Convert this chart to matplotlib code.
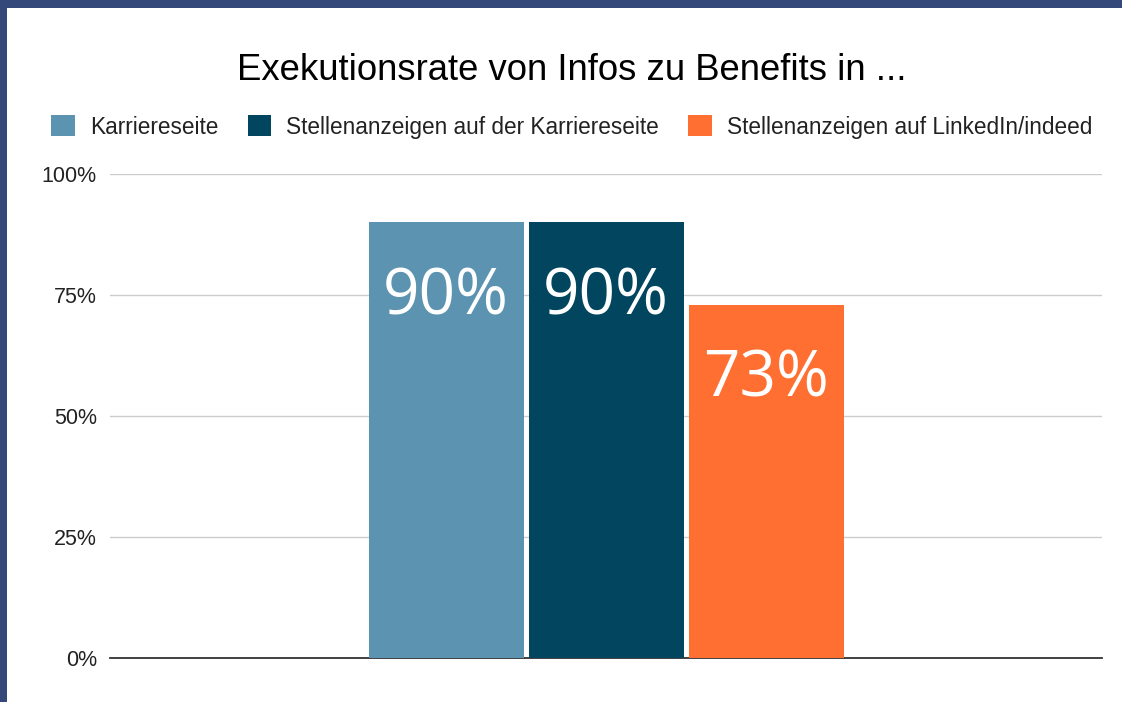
import matplotlib
matplotlib.use("Agg")
import matplotlib.pyplot as plt
from matplotlib.patches import Patch, Rectangle

plt.rcParams['font.family'] = ['Liberation Sans', 'DejaVu Sans']

series = ["Karriereseite", "Stellenanzeigen auf der Karriereseite", "Stellenanzeigen auf LinkedIn/indeed"]
values = [90, 90, 73]
colors = ["#5b93b0", "#02455f", "#ff6f31"]
yticks = [0, 25, 50, 75, 100]
title = "Exekutionsrate von Infos zu Benefits in ..."

W, H = 1122, 702
fig = plt.figure(figsize=(W / 100, H / 100), dpi=100, facecolor="#34497a")
# white panel (screenshot shows chart on dark blue background)
fig.patches.append(Rectangle((7 / W, 0), 1 - 7 / W, 1 - 8 / H, transform=fig.transFigure,
                             facecolor="white", edgecolor="none", zorder=-10))

ax = fig.add_axes([110 / W, 1 - 658 / H, 992 / W, 484 / H])
ax.set_facecolor("none")

pitch = 160 / 992
width = 155 / 992
offsets = [-pitch, 0, pitch]
for off, val, col in zip(offsets, values, colors):
    ax.bar(off, val, width=width, color=col, zorder=3)
    ax.annotate(f"{val}%", (off, val), xytext=(0, -66), textcoords="offset points",
                ha="center", va="baseline", color="white", fontsize=46,
                family=["Open Sans", "DejaVu Sans"], zorder=4)

ax.set_xlim(-0.5, 0.5)
ax.set_ylim(0, 100)
ax.set_yticks(yticks)
ax.set_yticklabels([f"{t}%" for t in yticks], fontsize=15.5, color="#222222")
ax.set_xticks([])
ax.tick_params(axis="y", length=0, pad=9.4)
for s in ["top", "right", "left"]:
    ax.spines[s].set_visible(False)
ax.spines["bottom"].set_color("#333333")
ax.spines["bottom"].set_linewidth(1.3)
ax.grid(axis="y", color="#cccccc", linewidth=1, zorder=0)

fig.text(0.5095, 1 - 80 / H, title, ha="center", va="baseline", fontsize=26.3, color="black")

handles = [Patch(facecolor=c, edgecolor="none") for c in colors]
fig.legend(handles, series, loc="center", bbox_to_anchor=(0.5095, 1 - 127 / H), ncol=3,
           frameon=False, fontsize=16.3, handlelength=1.05, handleheight=1.05,
           handletextpad=0.65, columnspacing=1.3, labelcolor="#222222")

fig.savefig("out.png", dpi=100, facecolor=fig.get_facecolor())
